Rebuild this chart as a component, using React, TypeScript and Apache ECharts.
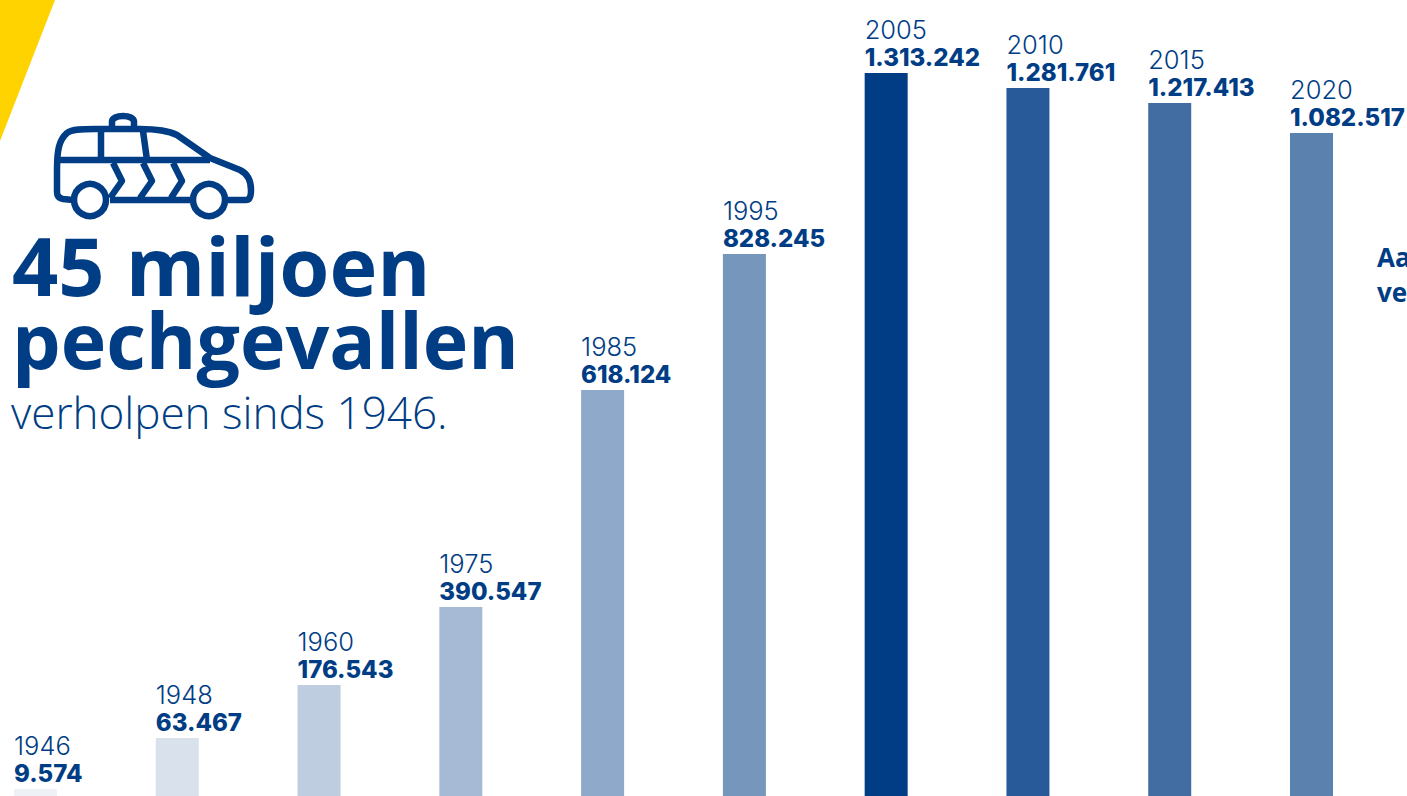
import React, { useEffect, useRef } from "react";
import * as echarts from "echarts";

const years = ["1946", "1948", "1960", "1975", "1985", "1995", "2005", "2010", "2015", "2020"];
const printedValues = ["9.574", "63.467", "176.543", "390.547", "618.124", "828.245", "1.313.242", "1.281.761", "1.217.413", "1.082.517"];
// Bar lengths as drawn in the picture (thousands, on the scale where the 2005 bar equals its label).
// The source infographic's bars are not proportional to their printed numbers.
const drawnValues = [12.7, 105.4, 201.6, 343.3, 737.5, 984.5, 1313.2, 1286, 1258.8, 1204.3];
const barColors = ["#eef2f7", "#d9e1ec", "#bfcde1", "#a6bad6", "#8fa9cb", "#7696bc", "#003d84", "#285a99", "#416da3", "#5b82ae"];

const NAVY = "#003d84";
const FONT = "'Open Sans', 'Noto Sans', sans-serif";
const NUM_FONT = "Inter, 'Open Sans', sans-serif";
const CAR_D =
  "M73 200 L63 199 Q57 198 57 192 L57 170 C57 150 59 140 67 133 C72 129 83 129 95 129 L140 129 C152 129 167 130 177 135 L210 158 L240 170 C248 174 251 182 251 190 Q251 200 246 200 L228 200 " +
  "M110 200 L190 200 M58 160 L210 160 M101 130 L101 160 M143 131 L147 160 " +
  "M112 127 L112 122 C112 118 117 116 123 116 C129 116 134 118 134 122 L134 127 " +
  "M113 163 L122 181 L110 198 M143 163 L152 181 L140 198 M173 163 L182 181 L171 198";

echarts.graphic.registerShape("carIcon", echarts.graphic.extendPath(CAR_D, {}));

export default function App() {
  const ref = useRef<HTMLDivElement>(null);
  useEffect(() => {
    const chart = echarts.init(ref.current!, undefined, { renderer: "svg" });
    const text = (t: string, x: number, y: number, size: number, weight: number) => ({
      type: "text",
      x,
      y,
      style: { text: t, fill: NAVY, font: `${weight} ${size}px ${FONT}`, verticalAlign: "top" },
    });
    chart.setOption({
      animation: false,
      backgroundColor: "#ffffff",
      grid: { left: 35.5, top: 0, width: 1276, height: 796 },
      xAxis: { type: "category", data: years, show: false, boundaryGap: false },
      yAxis: { type: "value", min: 0, max: 1445.9, show: false },
      series: [
        {
          type: "bar",
          barWidth: 43,
          clip: false,
          data: drawnValues.map((v, i) => ({ value: v, itemStyle: { color: barColors[i] } })),
          label: {
            show: true,
            position: [0, -58],
            align: "left",
            formatter: (p: any) => `{y|${years[p.dataIndex]}}\n{v|${printedValues[p.dataIndex]}}`,
            rich: {
              y: { fontFamily: NUM_FONT, fontWeight: 300, fontSize: 25.5, lineHeight: 29, color: NAVY },
              v: { fontFamily: NUM_FONT, fontWeight: 800, fontSize: 24, lineHeight: 27, color: NAVY },
            },
          },
        },
      ],
      graphic: [
        { type: "polygon", shape: { points: [[0, 0], [55, 0], [0, 141]] }, style: { fill: "#ffd300" } },
        { type: "carIcon", x: 0, y: 0, style: { fill: "none", stroke: NAVY, lineWidth: 6.5, lineJoin: "round" } },
        { type: "circle", shape: { cx: 90, cy: 200, r: 16 }, style: { fill: "#fff", stroke: NAVY, lineWidth: 6.5 } },
        { type: "circle", shape: { cx: 209, cy: 200, r: 16 }, style: { fill: "#fff", stroke: NAVY, lineWidth: 6.5 } },
        text("45 miljoen", 12, 224, 81, 700),
        text("pechgevallen", 12, 301, 77, 700),
        text("verholpen sinds 1946.", 11, 390, 44, 300),
        text("Aa", 1377, 244, 26, 700),
        text("ve", 1377, 279, 26, 700),
      ],
    });
    return () => chart.dispose();
  }, []);
  return <div ref={ref} style={{ position: "fixed", left: 0, top: 0, width: 1407, height: 796 }} />;
}
